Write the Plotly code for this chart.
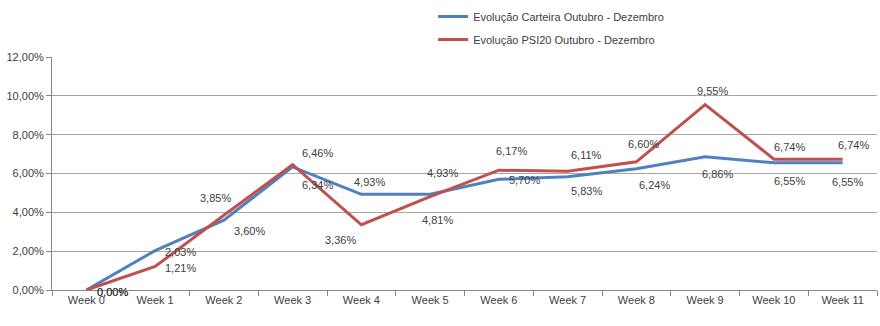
import plotly.graph_objects as go

weeks = ["Week 0", "Week 1", "Week 2", "Week 3", "Week 4", "Week 5",
         "Week 6", "Week 7", "Week 8", "Week 9", "Week 10", "Week 11"]
carteira = [0.00, 2.03, 3.60, 6.34, 4.93, 4.93, 5.70, 5.83, 6.24, 6.86, 6.55, 6.55]
psi20 = [0.00, 1.21, 3.85, 6.46, 3.36, 4.81, 6.17, 6.11, 6.60, 9.55, 6.74, 6.74]
y_ticks = [0, 2, 4, 6, 8, 10, 12]

name_carteira = "Evolução Carteira Outubro - Dezembro"
name_psi20 = "Evolução PSI20 Outubro - Dezembro"

# label offsets (pixels) relative to each point
off_carteira = [(26, 2), (25, 1), (26, 11), (25, 18), (8, -12), (12, -21),
                (26, 1), (19, 14), (18, 16), (12, 17), (16, 18), (5, 19)]
off_psi20 = [(26, 2), (25, 1), (-8, -17), (25, -12), (-21, 15), (7, 23),
             (13, -19), (19, -16), (7, -18), (7, -14), (16, -12), (11, -14)]

BLUE = "#4F81BD"
RED = "#C0504D"
FONT = "Liberation Sans"
TXT = "#404040"

def fmt(v):
    return f"{v:.2f}".replace(".", ",") + "%"

fig = go.Figure()
fig.add_trace(go.Scatter(x=weeks, y=carteira, mode="lines", name=name_carteira,
                         line=dict(color=BLUE, width=3), legendgroup="a"))
fig.add_trace(go.Scatter(x=weeks, y=psi20, mode="lines", name=name_psi20,
                         line=dict(color=RED, width=3), legendgroup="b"))

for series, offs in ((carteira, off_carteira), (psi20, off_psi20)):
    for w, v, (dx, dy) in zip(weeks, series, offs):
        fig.add_annotation(x=w, y=v, text=fmt(v), showarrow=False,
                           xshift=dx, yshift=-dy,
                           font=dict(family=FONT, size=11, color=TXT))

fig.update_layout(
    width=880, height=326,
    margin=dict(l=52, r=3, t=56, b=36),
    paper_bgcolor="white", plot_bgcolor="white",
    separators=",.",
    font=dict(family=FONT, size=11, color=TXT),
    showlegend=True,
    legend=dict(x=0.462, y=1.231, xanchor="left", yanchor="top",
                orientation="v", traceorder="grouped", tracegroupgap=4,
                font=dict(family=FONT, size=11, color=TXT),
                bgcolor="rgba(0,0,0,0)"),
    xaxis=dict(type="category", range=[-0.5, 11.5], tickson="boundaries",
               ticks="outside", ticklen=5, tickcolor="#868686",
               showline=True, linecolor="#868686", linewidth=1,
               showgrid=False, zeroline=False,
               tickfont=dict(family=FONT, size=11, color=TXT)),
    yaxis=dict(range=[0, 12], tickvals=y_ticks,
               ticktext=[fmt(t) for t in y_ticks],
               ticks="outside", ticklen=5, tickcolor="#868686",
               showline=True, linecolor="#868686", linewidth=1,
               showgrid=True, gridcolor="#A6A6A6", gridwidth=1,
               zeroline=False,
               tickfont=dict(family=FONT, size=11, color=TXT)),
)

fig.write_html("out.html")
